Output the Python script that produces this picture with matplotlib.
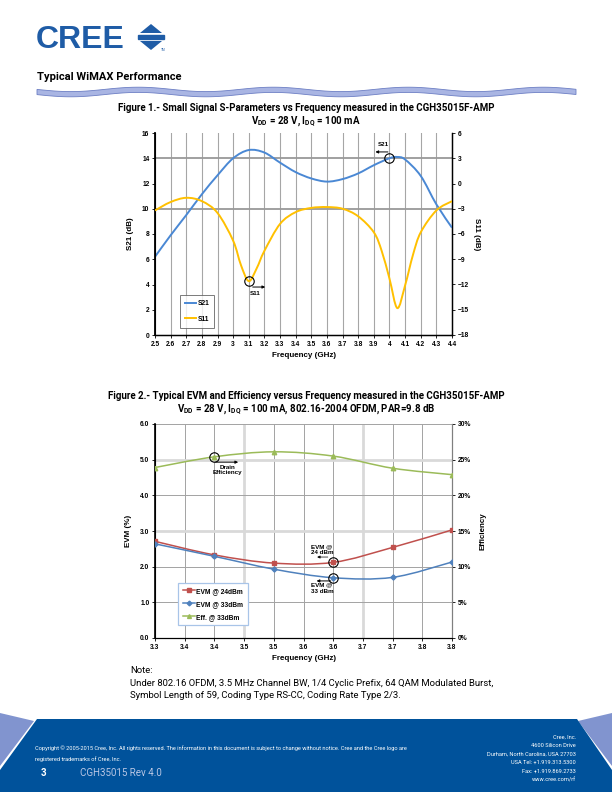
import matplotlib
matplotlib.use("Agg")
import matplotlib.pyplot as plt
import numpy as np
from matplotlib.path import Path
from matplotlib.patches import PathPatch, Polygon, Rectangle
from matplotlib.lines import Line2D

plt.rcParams['font.family'] = ['Liberation Sans', 'DejaVu Sans']
plt.rcParams['mathtext.fontset'] = 'custom'
plt.rcParams['mathtext.rm'] = 'Liberation Sans'
plt.rcParams['mathtext.bf'] = 'Liberation Sans:bold'

# ---- Figure 1 data: small signal S-parameters ----
f1_freq = [2.5, 2.6, 2.7, 2.8, 2.9, 3.0, 3.1, 3.2, 3.3, 3.4, 3.5, 3.6, 3.7,
           3.8, 3.9, 4.0, 4.05, 4.1, 4.2, 4.3, 4.4]
s21 = [6.2, 7.9, 9.5, 11.15, 12.65, 14.0, 14.65, 14.45, 13.65, 12.9, 12.4,
       12.15, 12.35, 12.8, 13.45, 14.0, 14.1, 13.9, 12.6, 10.35, 8.5]
s11_freq = [2.5, 2.6, 2.7, 2.8, 2.9, 3.0, 3.05, 3.1, 3.15, 3.2, 3.3, 3.4, 3.5,
            3.6, 3.7, 3.8, 3.9, 3.95, 4.0, 4.05, 4.1, 4.15, 4.2, 4.3, 4.4]
s11 = [-3.2, -2.2, -1.7, -2.1, -3.5, -6.8, -9.7, -11.6, -10.1, -8.0, -4.8,
       -3.4, -2.9, -2.8, -3.0, -3.9, -5.8, -8.0, -11.3, -14.8, -12.1, -8.5,
       -5.8, -3.2, -2.1]
f1_xticks = [2.5, 2.6, 2.7, 2.8, 2.9, 3.0, 3.1, 3.2, 3.3, 3.4, 3.5, 3.6, 3.7,
             3.8, 3.9, 4.0, 4.1, 4.2, 4.3, 4.4]
f1_xlabels = ['2.5', '2.6', '2.7', '2.8', '2.9', '3', '3.1', '3.2', '3.3', '3.4',
              '3.5', '3.6', '3.7', '3.8', '3.9', '4', '4.1', '4.2', '4.3', '4.4']

# ---- Figure 2 data: EVM and efficiency ----
f2_freq = [3.3, 3.4, 3.5, 3.6, 3.7, 3.8]
evm24 = [2.71, 2.33, 2.10, 2.12, 2.54, 3.03]
evm33 = [2.64, 2.29, 1.93, 1.69, 1.70, 2.13]
eff33 = [23.9, 25.4, 26.1, 25.5, 23.8, 22.9]
f2_xticks = [3.3, 3.35, 3.4, 3.45, 3.5, 3.55, 3.6, 3.65, 3.7, 3.75, 3.8]
f2_xlabels = ['3.3', '3.4', '3.4', '3.5', '3.5', '3.6', '3.6', '3.7', '3.7', '3.8', '3.8']

W, H = 612, 792
fig = plt.figure(figsize=(6.12, 7.92), dpi=100)

def rect(l, t, r, b):
    return [l / W, 1 - b / H, (r - l) / W, (b - t) / H]

def ftext(x, y, s, **kw):
    fig.text(x / W, 1 - y / H, s, **kw)

def fpoly(pts, **kw):
    fig.patches.append(Polygon([[x / W, 1 - y / H] for x, y in pts], closed=True,
                               transform=fig.transFigure, **kw))

def smooth(ax, x, y, **kw):
    # excel style smoothed line (bezier through the points)
    p = np.column_stack([x, y]).astype(float)
    verts = [p[0]]
    codes = [Path.MOVETO]
    n = len(p)
    for i in range(n - 1):
        p0 = p[i - 1] if i > 0 else p[i]
        p1, p2 = p[i], p[i + 1]
        p3 = p[i + 2] if i + 2 < n else p[i + 1]
        verts += [p1 + (p2 - p0) / 6, p2 - (p3 - p1) / 6, p2]
        codes += [Path.CURVE4] * 3
    ax.add_patch(PathPatch(Path(verts, codes), fill=False, **kw))

def ring(ax, x, y):
    ax.plot([x], [y], marker='o', ms=6.8, mfc='none', mec='black', mew=0.8, zorder=6)

def arrow(ax, x0, x1, y, lw=0.7):
    ax.annotate('', xy=(x1, y), xytext=(x0, y),
                arrowprops=dict(arrowstyle='-|>', color='black', lw=lw, mutation_scale=4,
                                shrinkA=0, shrinkB=0))

blue_logo = '#1f5ca6'

# ---- header ----
ftext(36, 48, 'CREE', fontsize=23, fontweight='bold', color=blue_logo)
fpoly([(140, 33), (162, 33), (151, 24)], color=blue_logo, lw=0)
fig.patches.append(Rectangle((138 / W, 1 - 38.5 / H), 26 / W, 3.2 / H,
                             transform=fig.transFigure, color=blue_logo))
fpoly([(140, 41), (162, 41), (151, 50)], color=blue_logo, lw=0)
ftext(161, 51, 'TM', fontsize=2.3, color=blue_logo)

ftext(37, 80, 'Typical WiMAX Performance', fontsize=8, fontweight='bold',
      family='Roboto')

# wavy band
xs = np.linspace(37, 576, 300)
yc = 92 + 2.2 * np.sin((xs - 37) / 540 * 4 * 2 * np.pi)
top = np.column_stack([xs / W, 1 - (yc - 2.6) / H])
bot = np.column_stack([xs[::-1] / W, 1 - (yc[::-1] + 2.6) / H])
fig.patches.append(Polygon(np.vstack([top, bot]), closed=True, transform=fig.transFigure,
                           facecolor='#a9b5e3', edgecolor='#6d7fc4', linewidth=0.6))

# ---- figure 1 ----
ftext(306, 111, 'Figure 1.- Small Signal S-Parameters vs Frequency measured in the CGH35015F-AMP',
      fontsize=7, fontweight='bold', ha='center', family='Roboto')
ftext(306, 124, r'V$_{\mathregular{DD}}$ = 28 V, I$_{\mathregular{DQ}}$ = 100 mA',
      fontsize=7, fontweight='bold', ha='center', family='Roboto')

ax1 = fig.add_axes(rect(155, 133, 452, 335))
ax1.set_xlim(2.5, 4.4)
ax1.set_ylim(0, 16)
for xv in f1_xticks[1:-1]:
    ax1.axvline(xv, color='#a6a6a6', lw=0.8, zorder=1)
for yv in [10, 14]:
    ax1.axhline(yv, color='#999999', lw=1.3, zorder=1)
ax1.set_xticks(f1_xticks)
ax1.set_xticklabels(f1_xlabels)
ax1.set_yticks(range(0, 17, 2))
ax1.spines['top'].set_visible(False)
ax1.spines['left'].set_linewidth(1.3)
ax1.spines['bottom'].set_linewidth(1.0)
ax1.spines['right'].set_linewidth(1.0)
ax1.tick_params(labelsize=4.8, length=2, width=0.6, pad=2)
for lab in ax1.get_xticklabels() + ax1.get_yticklabels():
    lab.set_fontweight('bold')
smooth(ax1, f1_freq, s21, edgecolor='#4a88d4', lw=1.4, zorder=3)
ax1.set_xlabel('Frequency (GHz)', fontsize=5.8, fontweight='bold', labelpad=3)
ax1.set_ylabel('S21 (dB)', fontsize=5.8, fontweight='bold', labelpad=6)

ax1r = ax1.twinx()
ax1r.set_ylim(-18, 6)
ax1r.set_yticks(range(-18, 7, 3))
ax1r.spines['top'].set_visible(False)
ax1r.tick_params(labelsize=4.8, length=2, width=0.6, pad=2)
for lab in ax1r.get_yticklabels():
    lab.set_fontweight('bold')
smooth(ax1r, s11_freq, s11, edgecolor='#ffc000', lw=1.4, zorder=3)
ax1r.set_ylabel('S11 (dB)', fontsize=5.8, fontweight='bold', rotation=270, labelpad=8)

# annotations figure 1
ring(ax1r, 4.0, s21[15] * 1.5 - 18)
arrow(ax1r, 3.99, 3.91, 14.5 * 1.5 - 18)
ax1r.text(3.96, 15.05 * 1.5 - 18, 'S21', fontsize=4.5, fontweight='bold', ha='center', va='center')
ring(ax1r, 3.1, -11.6)
arrow(ax1r, 3.125, 3.205, 3.8 * 1.5 - 18)
ax1r.text(3.14, 3.25 * 1.5 - 18, 'S11', fontsize=4.5, fontweight='bold', ha='center', va='center')

h1 = [Line2D([], [], color='#4a88d4', lw=1.4), Line2D([], [], color='#ffc000', lw=1.4)]
lg1 = ax1.legend(h1, ['S21', 'S11'], loc='upper left', bbox_to_anchor=(0.084, 0.2),
                 fontsize=4.8, frameon=True, fancybox=False, edgecolor='#595959',
                 handlelength=1.6, handletextpad=0.2, borderpad=0.8, labelspacing=1.3,
                 borderaxespad=0)
lg1.get_frame().set_linewidth(0.7)
for t in lg1.get_texts():
    t.set_fontweight('bold')

# ---- figure 2 ----
ftext(306, 399, 'Figure 2.- Typical EVM and Efficiency versus Frequency measured in the CGH35015F-AMP',
      fontsize=7, fontweight='bold', ha='center', family='Roboto')
ftext(306, 412, r'V$_{\mathregular{DD}}$ = 28 V, I$_{\mathregular{DQ}}$ = 100 mA, 802.16-2004 OFDM, PAR=9.8 dB',
      fontsize=7, fontweight='bold', ha='center', family='Roboto')

ax2 = fig.add_axes(rect(155, 424, 452, 638))
ax2.set_xlim(3.3, 3.8)
ax2.set_ylim(0, 6)
for xv in f2_xticks[1:-1]:
    if xv in (3.45, 3.65):
        ax2.axvline(xv, color='#d9d9d9', lw=2.0, zorder=1)
    else:
        ax2.axvline(xv, color='#a3a3a3', lw=0.7, zorder=1)
for yv in [1, 2, 4, 6]:
    ax2.axhline(yv, color='#a3a3a3', lw=0.7, zorder=1)
for yv in [3, 5]:
    ax2.axhline(yv, color='#d9d9d9', lw=2.0, zorder=1)
ax2.set_xticks(f2_xticks)
ax2.set_xticklabels(f2_xlabels)
ax2.set_yticks(range(0, 7))
ax2.set_yticklabels(['%.1f' % v for v in range(0, 7)])
ax2.spines['top'].set_visible(False)
ax2.spines['left'].set_linewidth(1.2)
ax2.spines['right'].set_color('#7f7f7f')
ax2.tick_params(labelsize=4.8, length=2, width=0.6, pad=2)
for lab in ax2.get_xticklabels() + ax2.get_yticklabels():
    lab.set_fontweight('bold')
ax2.set_xlabel('Frequency (GHz)', fontsize=5.8, fontweight='bold', labelpad=3)
ax2.set_ylabel('EVM (%)', fontsize=5.8, fontweight='bold', labelpad=6)

ax2r = ax2.twinx()
ax2r.set_ylim(0, 30)
ax2r.set_yticks(range(0, 31, 5))
ax2r.set_yticklabels(['%d%%' % v for v in range(0, 31, 5)])
ax2r.spines['top'].set_visible(False)
ax2r.spines['right'].set_color('#7f7f7f')
ax2r.tick_params(labelsize=4.8, length=2, width=0.6, pad=2)
for lab in ax2r.get_yticklabels():
    lab.set_fontweight('bold')
ax2r.set_ylabel('Efficiency', fontsize=5.8, fontweight='bold', rotation=90, labelpad=6)

red, blu, grn = '#c0504d', '#4f81bd', '#9bbb59'
smooth(ax2r, f2_freq, [v / 5 * 5 for v in eff33], edgecolor=grn, lw=1.1, zorder=3)
smooth(ax2r, f2_freq, [v * 5 for v in evm24], edgecolor=red, lw=1.1, zorder=3)
smooth(ax2r, f2_freq, [v * 5 for v in evm33], edgecolor=blu, lw=1.1, zorder=3)
ax2r.plot(f2_freq, [v * 5 for v in evm24], ls='none', marker='s', ms=3.2, color=red, zorder=4)
ax2r.plot(f2_freq, [v * 5 for v in evm33], ls='none', marker='D', ms=2.6, color=blu, zorder=4)
ax2r.plot(f2_freq, eff33, ls='none', marker='^', ms=3.2, color=grn, zorder=4)

# annotations figure 2 (drawn on the right axis: 1.0 EVM = 5 %)
ring(ax2r, 3.4, eff33[1])
arrow(ax2r, 3.402, 3.44, 4.93 * 5)
ax2r.text(3.422, 4.86 * 5, 'Drain\nEfficiency', fontsize=4.5, fontweight='bold', ha='center',
          va='top', linespacing=1.1)

ring(ax2r, 3.6, evm24[3] * 5)
arrow(ax2r, 3.591, 3.573, 2.27 * 5, lw=0.5)
ax2r.text(3.581, 2.33 * 5, 'EVM @\n24 dBm', fontsize=4.5, fontweight='bold', ha='center',
          va='bottom', linespacing=1.2)
ring(ax2r, 3.6, evm33[3] * 5)
arrow(ax2r, 3.596, 3.572, 1.60 * 5)
ax2r.text(3.581, 1.55 * 5, 'EVM @\n33 dBm', fontsize=4.5, fontweight='bold', ha='center',
          va='top', linespacing=1.2)

h2 = [Line2D([], [], color=red, lw=1.1, marker='s', ms=2.8),
      Line2D([], [], color=blu, lw=1.1, marker='D', ms=2.4),
      Line2D([], [], color=grn, lw=1.1, marker='^', ms=2.8)]
lg2 = ax2r.legend(h2, ['EVM @ 24dBm', 'EVM @ 33dBm', 'Eff. @ 33dBm'], loc='upper left',
                  bbox_to_anchor=(0.077, 0.257), fontsize=4.8, frameon=True, fancybox=False,
                  edgecolor='#a8c4e8', handlelength=1.8, handletextpad=0.2, borderpad=0.7,
                  labelspacing=0.9, borderaxespad=0, framealpha=1)
lg2.get_frame().set_linewidth(0.9)
for t in lg2.get_texts():
    t.set_fontweight('bold')

# ---- note ----
ftext(130, 673, 'Note:', fontsize=6.8, family='Roboto')
ftext(130, 686, 'Under 802.16 OFDM, 3.5 MHz Channel BW, 1/4 Cyclic Prefix, 64 QAM Modulated Burst,',
      fontsize=6.8, family='Roboto')
ftext(130, 698, 'Symbol Length of 59, Coding Type RS-CC, Coding Rate Type 2/3.',
      fontsize=6.8, family='Roboto')

# ---- footer ----
fpoly([(0, 713), (34, 721), (0, 766)], color='#8194cf', lw=0)
fpoly([(612, 713), (578, 721), (612, 766)], color='#8194cf', lw=0)
fpoly([(0, 792), (0, 770), (37, 719), (577, 719), (612, 770), (612, 792)],
      color='#00529b', lw=0)

ftext(35, 750, 'Copyright \u00a9 2005-2015 Cree, Inc. All rights reserved. The information in this '
      'document is subject to change without notice. Cree and the Cree logo are',
      fontsize=4.1, color='white', family='Roboto')
ftext(35, 761, 'registered trademarks of Cree, Inc.', fontsize=4.1, color='white', family='Roboto')
ftext(41, 776, '3', fontsize=7, color='white', fontweight='bold', family='Roboto')
ftext(80, 776, 'CGH35015 Rev 4.0', fontsize=7, color='#b9c6e4', family='Roboto')
right_lines = ['Cree, Inc.', '4600 Silicon Drive', 'Durham, North Carolina, USA 27703',
               'USA Tel: +1.919.313.5300', 'Fax: +1.919.869.2733', 'www.cree.com/rf']
for i, s in enumerate(right_lines):
    ftext(576, 739 + i * 8.4, s, fontsize=4.1, color='white', ha='right', family='Roboto')

fig.savefig('out.png', dpi=100)
